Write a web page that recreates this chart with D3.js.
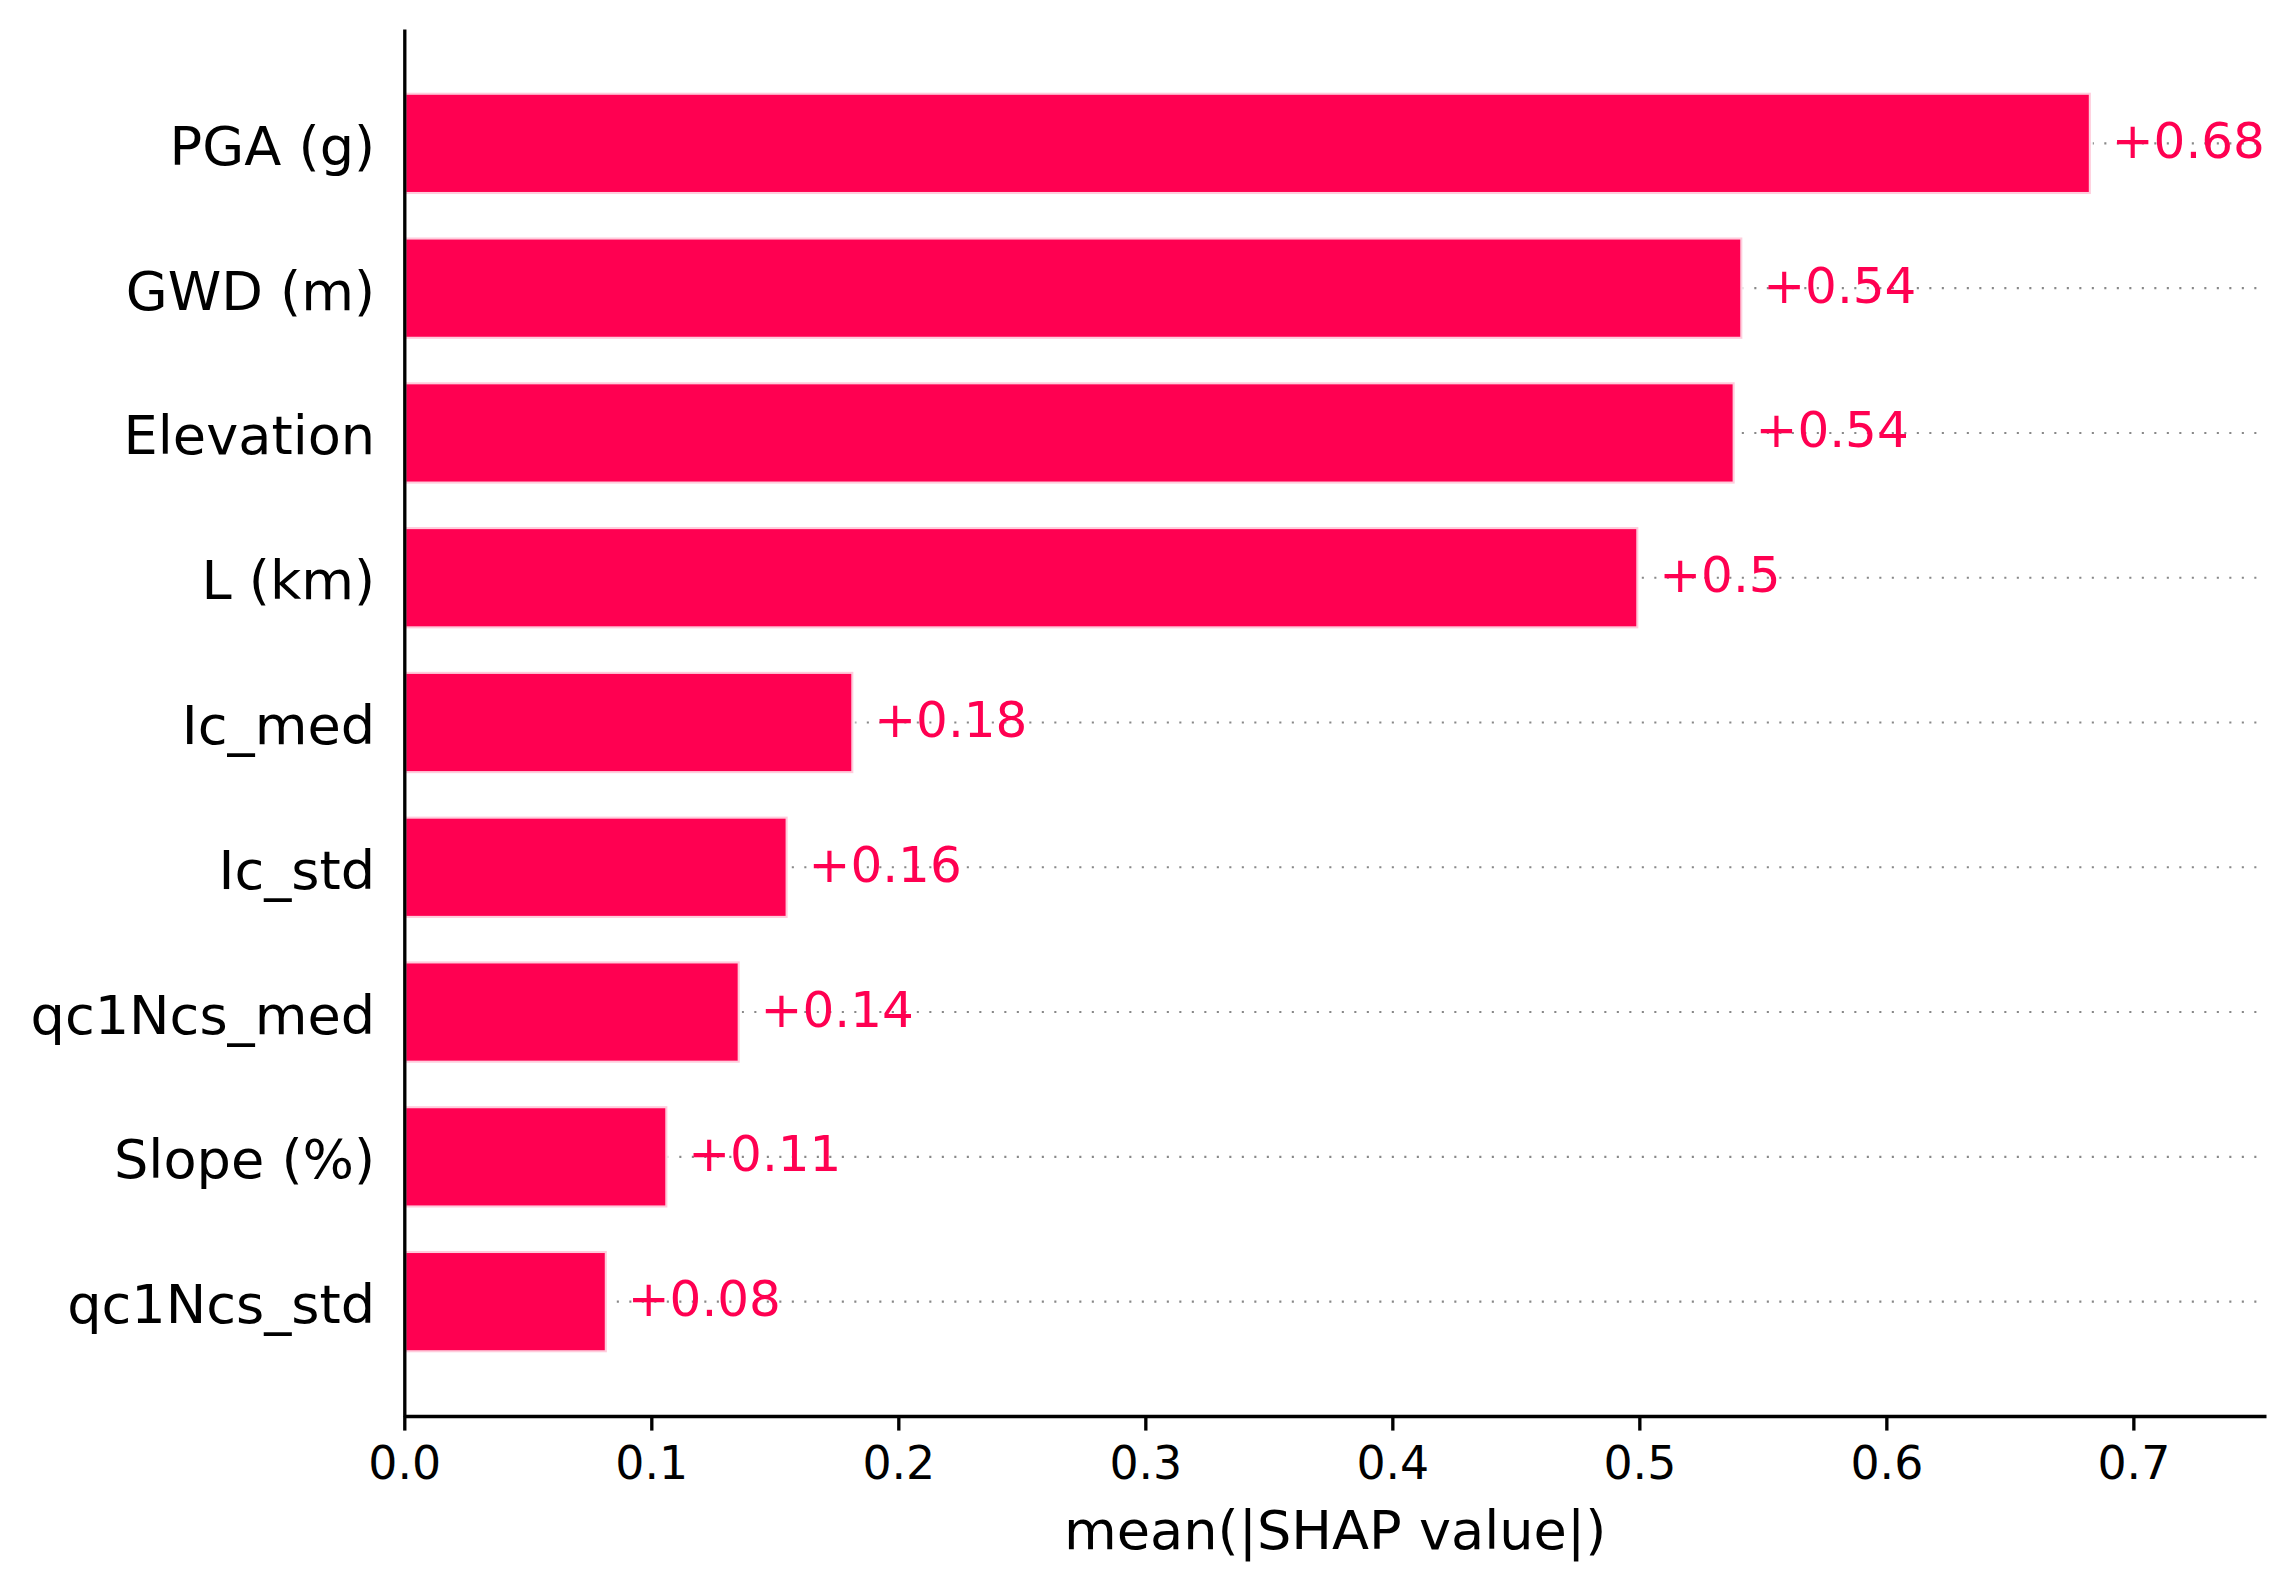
<!DOCTYPE html>
<html>
<head>
<meta charset="utf-8">
<script src="https://cdn.jsdelivr.net/npm/d3@7"></script>
<style>
    html, body { margin: 0; padding: 0; background: #fff; }
    svg { display: block; font-family: 'DejaVu Sans', sans-serif; }
</style>
</head>
<body>
<div id="chart"></div>
<script>
// feature names, top to bottom
const features = ['PGA (g)', 'GWD (m)', 'Elevation', 'L (km)', 'Ic_med', 'Ic_std', 'qc1Ncs_med', 'Slope (%)', 'qc1Ncs_std'];
// mean(|SHAP value|) per feature
const shapValues = [0.6828, 0.5417, 0.5386, 0.4996, 0.1818, 0.1552, 0.1358, 0.1065, 0.0820];
// x axis ticks
const xTicks = [0, 0.1, 0.2, 0.3, 0.4, 0.5, 0.6, 0.7];

const width = 2293, height = 1590;
const red = '#ff0051';
const pt = 300 / 72;

const svg = d3.select('#chart')
    .append('svg')
    .attr('width', width)
    .attr('height', height);

const x = d3.scaleLinear()
    .domain([0, 0.7537])
    .range([404.3, 2266]);

const y = d3.scaleLinear()
    .domain([-0.79, features.length - 1 + 0.79])
    .range([29, 1416]);

const barHalf = 0.35;

// dotted guide lines behind the bars
svg.append('g')
    .selectAll('line')
    .data(features)
    .enter()
    .append('line')
    .attr('x1', x.range()[0])
    .attr('x2', x.range()[1])
    .attr('y1', function (d, i) { return y(i); })
    .attr('y2', function (d, i) { return y(i); })
    .attr('stroke', '#888888')
    .attr('stroke-width', 0.5 * pt)
    .attr('stroke-dasharray', (0.5 * pt) + ' ' + (2.5 * pt));

// bars
svg.append('g')
    .selectAll('rect')
    .data(shapValues)
    .enter()
    .append('rect')
    .attr('x', x(0))
    .attr('y', function (d, i) { return y(i - barHalf); })
    .attr('width', function (d) { return x(d) - x(0); })
    .attr('height', function (d, i) { return y(i + barHalf) - y(i - barHalf); })
    .attr('fill', red)
    .attr('stroke', 'rgba(255,255,255,0.8)')
    .attr('stroke-width', pt);

// value labels
const fmt = d3.format('+.2f');
svg.append('g')
    .selectAll('text')
    .data(shapValues)
    .enter()
    .append('text')
    .attr('x', function (d) { return x(d) + 5 * pt; })
    .attr('y', function (d, i) { return y(i); })
    .attr('dy', 14.5)
    .attr('fill', red)
    .style('font-size', (12 * pt) + 'px')
    .text(function (d) { return fmt(d).replace(/\.?0+$/, ''); });

// x axis
const xAxis = svg.append('g')
    .attr('transform', 'translate(0,' + y.range()[1] + ')')
    .call(d3.axisBottom(x)
        .tickValues(xTicks)
        .tickFormat(d3.format('.1f'))
        .tickSize(3.5 * pt)
        .tickSizeOuter(0));
xAxis.select('.domain').attr('stroke', '#000').attr('stroke-width', 0.8 * pt);
xAxis.selectAll('.tick line').attr('stroke', '#000').attr('stroke-width', 0.8 * pt);
xAxis.selectAll('.tick text')
    .attr('y', 63)
    .attr('dy', 0)
    .attr('fill', '#000')
    .style('font-family', "'DejaVu Sans', sans-serif")
    .style('font-size', (11 * pt) + 'px');

// y axis with feature names
const yAxis = svg.append('g')
    .attr('transform', 'translate(' + x.range()[0] + ',0)')
    .call(d3.axisLeft(y)
        .tickValues(d3.range(features.length))
        .tickFormat(function (i) { return features[i]; })
        .tickSize(0)
        .tickSizeOuter(0)
        .tickPadding(7 * pt));
yAxis.select('.domain').attr('stroke', '#000').attr('stroke-width', 0.8 * pt);
yAxis.selectAll('.tick text')
    .attr('dy', 21)
    .attr('fill', '#000')
    .style('font-family', "'DejaVu Sans', sans-serif")
    .style('font-size', (13 * pt) + 'px');

// x label
svg.append('text')
    .attr('x', (x.range()[0] + x.range()[1]) / 2)
    .attr('y', 1549)
    .attr('text-anchor', 'middle')
    .style('font-size', (13 * pt) + 'px')
    .text('mean(|SHAP value|)');
</script>
</body>
</html>
